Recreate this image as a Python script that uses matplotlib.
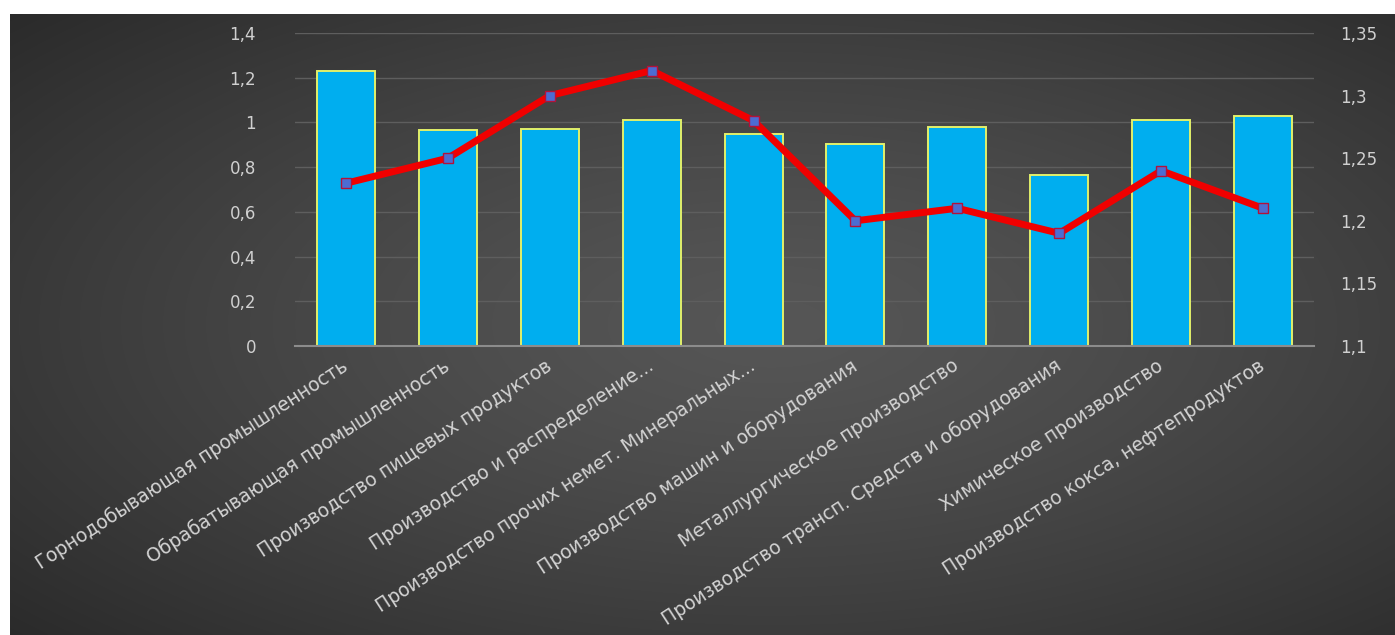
import numpy as np
import matplotlib
matplotlib.use("Agg")
import matplotlib.pyplot as plt
from matplotlib.ticker import FuncFormatter

# data
categories = [
    "Горнодобывающая промышленность",
    "Обрабатывающая промышленность",
    "Производство пищевых продуктов",
    "Производство и распределение...",
    "Производство прочих немет. Минеральных...",
    "Производство машин и оборудования",
    "Металлургическое производство",
    "Производство трансп. Средств и оборудования",
    "Химическое производство",
    "Производство кокса, нефтепродуктов",
]
bar_values = [1.23, 0.965, 0.97, 1.01, 0.95, 0.905, 0.978, 0.767, 1.01, 1.03]
line_values = [1.23, 1.25, 1.30, 1.32, 1.28, 1.20, 1.21, 1.19, 1.24, 1.21]
left_ticks = [0, 0.2, 0.4, 0.6, 0.8, 1.0, 1.2, 1.4]
right_ticks = [1.1, 1.15, 1.2, 1.25, 1.3, 1.35]

W, H = 1395, 635
fig = plt.figure(figsize=(W / 100, H / 100), dpi=100, facecolor="white")

# dark radial background
bg = fig.add_axes([10 / W, 0, 1 - 10 / W, 1 - 14 / H], zorder=0)
yy, xx = np.mgrid[0:1:300j, 0:1:600j]
r = np.sqrt(((xx - 0.55) / 0.75) ** 2 + ((yy - 0.5) / 0.75) ** 2)
r = np.clip(r, 0, 1)
shade = (86 - 44 * r ** 1.3) / 255
bg.imshow(np.dstack([shade, shade, shade]), aspect="auto", extent=[0, 1, 0, 1],
          interpolation="bicubic")
bg.axis("off")

ax = fig.add_axes([295 / W, 1 - 346 / H, (1314 - 295) / W, (346 - 33) / H], zorder=1)
ax.patch.set_visible(False)
x = np.arange(len(categories))

ax.bar(x, bar_values, width=0.57, color="#00AEEF", edgecolor="#E2F06A",
       linewidth=1.4, zorder=3)
ax.set_ylim(0, 1.4)
ax.set_xlim(-0.5, len(categories) - 0.5)
ax.set_yticks(left_ticks)
ax.yaxis.set_major_formatter(FuncFormatter(lambda v, p: f"{v:g}".replace(".", ",")))
ax.grid(axis="y", color="#5E5E5E", linewidth=1, zorder=0)
for s in ["top", "right", "left"]:
    ax.spines[s].set_visible(False)
ax.spines["bottom"].set_color("#8C8C8C")
ax.spines["bottom"].set_linewidth(1.5)
ax.spines["bottom"].set_zorder(4)
ax.tick_params(axis="y", length=0, pad=28, labelsize=12, labelcolor="#D0D0D0")
ax.tick_params(axis="x", length=0, pad=13)
ax.set_xticks(x)
ax.set_xticklabels(categories, rotation=33, ha="right", va="center",
                   rotation_mode="anchor", fontsize=13.5, color="#D3D3D3")

ax2 = ax.twinx()
ax2.plot(x, line_values, color="#F00000", linewidth=5, marker="s", markersize=7.5,
         markerfacecolor="#4C6CD2", markeredgecolor="#B3123A", markeredgewidth=1.0,
         zorder=5)
ax2.set_ylim(1.1, 1.35)
ax2.set_yticks(right_ticks)
ax2.yaxis.set_major_formatter(FuncFormatter(lambda v, p: f"{v:g}".replace(".", ",")))
for s in ax2.spines.values():
    s.set_visible(False)
ax2.tick_params(axis="y", length=0, pad=19, labelsize=12, labelcolor="#D0D0D0")

fig.savefig("out.png", dpi=100, facecolor="white")
